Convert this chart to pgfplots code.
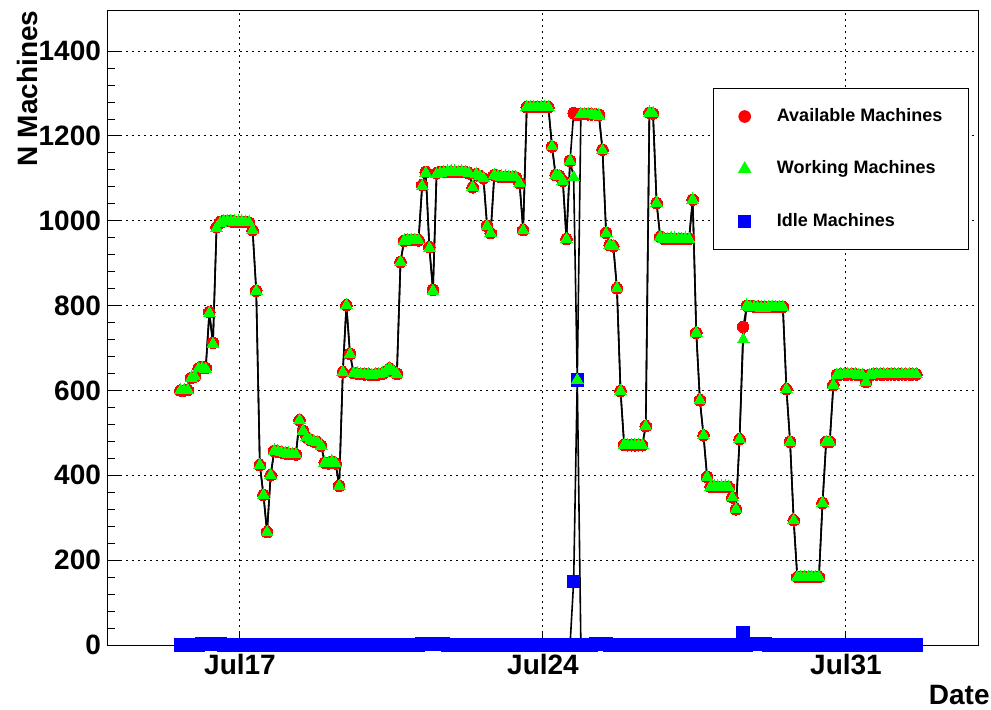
\documentclass[border=0pt]{standalone}
\usepackage{fontspec}
\setmainfont{Liberation Sans}
\usepackage{pgfplots}
\usepackage{pgfplotstable}
\pgfplotsset{compat=1.18}
\definecolor{rootred}{rgb}{1,0,0}
\definecolor{rootgreen}{rgb}{0,1,0}
\definecolor{rootblue}{rgb}{0,0,1}

% h = hours since Jul 17 00:00 ; av = available, wk = working, id = idle
\pgfplotstableread{
h av wk id
-33 600 600 0
-31 600 600 0
-29 601 601 0
-27 630 630 0
-25 633 633 0
-23 652 652 0
-21 655 653 2
-19 653 651 2
-17 785 783 2
-15 712 710 2
-13 985 983 2
-11 997 995 2
-9 999 999 0
-7 1000 1000 0
-5 999 999 0
-3 998 998 0
-1 998 998 0
1 998 998 0
3 997 997 0
5 996 996 0
7 978 978 0
9 835 835 0
11 424 424 0
13 354 354 0
15 266 266 0
17 400 400 0
19 458 458 0
21 456 456 0
23 454 454 0
25 452 452 0
27 451 451 0
29 450 450 0
31 449 449 0
33 530 530 0
35 505 505 0
37 490 490 0
39 483 483 0
41 480 480 0
43 478 478 0
45 470 470 0
47 430 430 0
49 428 428 0
51 432 432 0
53 428 428 0
55 375 375 0
57 643 643 0
59 801 801 0
61 686 686 0
63 641 641 0
65 640 640 0
67 639 639 0
69 638 638 0
71 638 638 0
73 637 637 0
75 638 638 0
77 638 638 0
79 640 640 0
81 645 645 0
83 652 652 0
85 645 645 0
87 639 639 0
89 903 903 0
91 953 953 0
93 955 955 0
95 955 955 0
97 955 955 0
99 954 954 0
101 1084 1082 2
103 1115 1113 2
105 938 936 2
107 837 835 2
109 1112 1110 2
111 1115 1113 2
113 1116 1114 2
115 1116 1116 0
117 1116 1116 0
119 1116 1116 0
121 1115 1115 0
123 1116 1116 0
125 1115 1115 0
127 1112 1112 0
129 1079 1079 0
131 1110 1110 0
133 1105 1105 0
135 1100 1100 0
137 988 988 0
139 971 971 0
141 1108 1108 0
143 1105 1105 0
145 1104 1104 0
147 1104 1104 0
149 1103 1103 0
151 1103 1103 0
153 1102 1102 0
155 1089 1089 0
157 978 978 0
159 1268 1268 0
161 1268 1268 0
163 1268 1268 0
165 1268 1268 0
167 1268 1268 0
169 1268 1268 0
171 1268 1268 0
173 1175 1175 0
175 1108 1108 0
177 1106 1106 0
179 1094 1094 0
181 957 957 0
183 1141 1141 0
185 1254 1103 150
187 1250 625 625
189 1252 1252 0
191 1252 1252 0
193 1251 1251 0
195 1251 1251 0
197 1251 1249 2
199 1250 1248 2
201 1168 1166 2
203 972 970 2
205 943 943 0
207 940 940 0
209 841 841 0
211 599 599 0
213 472 472 0
215 471 471 0
217 471 471 0
219 471 471 0
221 471 471 0
223 471 471 0
225 516 516 0
227 1255 1255 0
229 1253 1253 0
231 1042 1042 0
233 962 962 0
235 958 958 0
237 957 957 0
239 958 958 0
241 958 958 0
243 957 957 0
245 957 957 0
247 958 958 0
249 957 957 0
251 1050 1050 0
253 736 736 0
255 577 577 0
257 494 494 0
259 396 396 0
261 373 373 0
263 373 373 0
265 373 373 0
267 373 373 0
269 373 373 0
271 372 372 0
273 348 348 0
275 320 320 0
277 485 485 0
279 750 720 30
281 800 800 0
283 799 797 2
285 798 796 2
287 798 796 2
289 797 795 2
291 797 795 2
293 797 797 0
295 797 797 0
297 797 797 0
299 797 797 0
301 797 797 0
303 603 603 0
305 479 479 0
307 294 294 0
309 160 160 0
311 160 160 0
313 160 160 0
315 160 160 0
317 160 160 0
319 160 160 0
321 160 160 0
323 335 335 0
325 479 479 0
327 479 479 0
329 613 613 0
331 637 637 0
333 638 638 0
335 638 638 0
337 638 638 0
339 638 638 0
341 638 638 0
343 637 637 0
345 637 637 0
347 620 620 0
349 637 637 0
351 638 638 0
353 638 638 0
355 638 638 0
357 638 638 0
359 638 638 0
361 638 638 0
363 638 638 0
365 638 638 0
367 638 638 0
369 638 638 0
371 638 638 0
373 638 638 0
375 638 638 0
}\machines

\begin{document}
\begin{tikzpicture}
\path[use as bounding box] (-54pt,-32pt) rectangle (441.5pt,322.5pt);
\begin{axis}[
  at={(0pt,0pt)}, anchor=south west,
  scale only axis,
  width=435pt, height=317.5pt,
  xmin=-73.19, xmax=409.2,
  ymin=0, ymax=1497,
  clip=false,
  font=\fontsize{14}{16}\selectfont\bfseries,
  /pgf/number format/assume math mode=true,
  /pgf/number format/1000 sep={},
  xtick={0,168,336},
  xticklabels={Jul17,Jul24,Jul31},
  ytick={0,200,...,1400},
  minor y tick num=4,
  tick pos=left,
  tick align=inside,
  major tick length=7pt,
  minor tick length=3.5pt,
  tick style={line width=0.5pt, black},
  axis line style={line width=0.5pt},
  grid=major,
  major grid style={black, line width=0.5pt, dash pattern=on 1pt off 2pt},
  ticklabel style={font=\fontsize{14}{16}\selectfont\bfseries},
  xticklabel style={yshift=-1pt},
  every axis y label/.style={at={(axis description cs:0,1)}, rotate=90, anchor=east, inner sep=0pt, yshift=40.5pt, font=\fontsize{14}{16}\selectfont\bfseries},
  every axis x label/.style={at={(axis description cs:1,0)}, anchor=east, inner sep=0pt, xshift=6pt, yshift=-25pt, font=\fontsize{14}{16}\selectfont\bfseries},
  ylabel={N Machines},
  xlabel={Date},
  legend style={at={(rel axis cs:0.6954,0.8772)}, anchor=north west,
    draw=black, line width=0.5pt, fill=white,
    font=\fontsize{9}{10}\selectfont\bfseries,
    inner xsep=12.5pt, inner ysep=10pt,
    row sep=18.2pt, column sep=13pt,
    nodes={inner sep=0pt}},
  legend cell align=left,
]
\addlegendimage{only marks, mark=*, mark size=2.9pt, draw=rootred, fill=rootred}
\addlegendentry{\makebox[83.5pt][l]{Available Machines}}
\addlegendimage{only marks, mark=triangle*, mark size=3.4pt, draw=rootgreen, fill=rootgreen}
\addlegendentry{\makebox[83.5pt][l]{Working Machines}}
\addlegendimage{only marks, mark=square*, mark size=3.1pt, draw=rootblue, fill=rootblue}
\addlegendentry{\makebox[83.5pt][l]{Idle Machines}}

\addplot[forget plot, black, line width=0.8pt, mark=square*, mark size=3.1pt,
  mark options={draw=rootblue, fill=rootblue, line width=0pt}] table[x=h, y=id] {\machines};
\addplot[forget plot, black, line width=0.8pt, mark=*, mark size=2.9pt,
  mark options={draw=rootred, fill=rootred, line width=0pt}] table[x=h, y=av] {\machines};
\addplot[forget plot, black, line width=0.8pt, mark=triangle*, mark size=3.4pt,
  mark options={draw=rootgreen, fill=rootgreen, line width=0pt}] table[x=h, y=wk] {\machines};
\end{axis}
\end{tikzpicture}
\end{document}
